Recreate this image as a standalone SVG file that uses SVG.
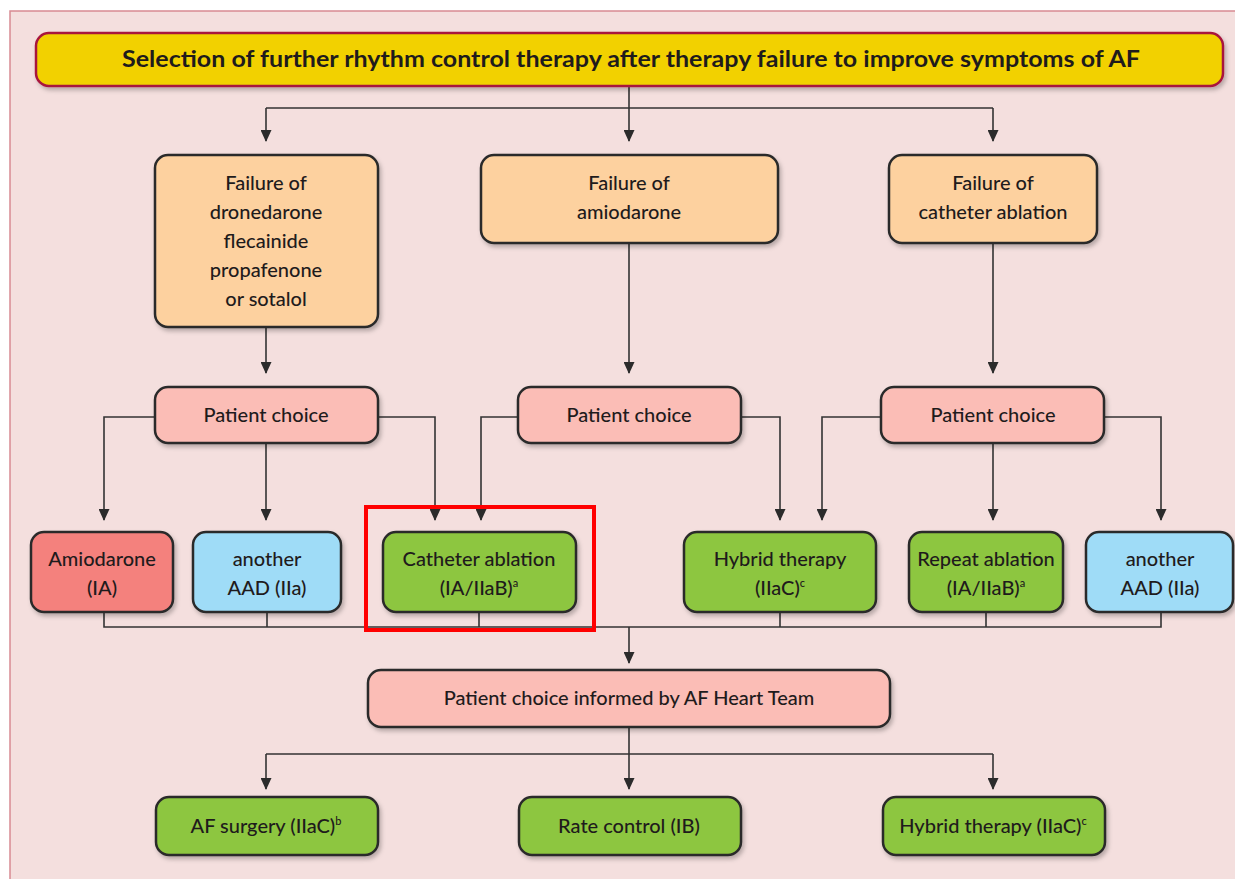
<svg xmlns="http://www.w3.org/2000/svg" width="1235" height="879" viewBox="0 0 1235 879">
<defs>
<filter id="sh" x="-10%" y="-10%" width="125%" height="130%">
<feDropShadow dx="2" dy="3" stdDeviation="2" flood-color="#000" flood-opacity="0.25"/>
</filter>
<marker id="ah" markerUnits="userSpaceOnUse" markerWidth="12" markerHeight="11" refX="11" refY="5.5" orient="auto" viewBox="0 0 12 11">
<path d="M0,0 L12,5.5 L0,11 Z" fill="#2b2b2b"/>
</marker>
<style>
.box{stroke:#2a2a2a;stroke-width:2.5;filter:url(#sh)}
.peach{fill:#fdd19f}
.pink{fill:#fbbdb6}
.red{fill:#f4817d}
.blue{fill:#9fdcf7}
.green{fill:#8dc63f}
.t{font-family:Lato,"Liberation Sans",sans-serif;font-size:20px;font-weight:500;fill:#1f1b1c;text-anchor:middle}
.sup{font-size:11px}
.c{fill:none;stroke:#333;stroke-width:1.6}
.c path.a{marker-end:url(#ah)}
</style>
</defs>
<rect x="0" y="0" width="1235" height="879" fill="#fff"/>
<rect x="10" y="11" width="1240" height="880" fill="#f4dfde" stroke="#d88a93" stroke-width="1.5"/>

<g id="connectors" class="c">
<path d="M629,86 V108 M266,108 H993"/>
<path class="a" d="M266,108 V141"/>
<path class="a" d="M629,108 V141"/>
<path class="a" d="M993,108 V141"/>
<path class="a" d="M266,327 V373"/>
<path class="a" d="M629,243 V373"/>
<path class="a" d="M993,243 V373"/>
<path class="a" d="M155,417 H104 V520"/>
<path class="a" d="M266,443 V520"/>
<path class="a" d="M378,417 H435 V520"/>
<path class="a" d="M518,417 H481 V520"/>
<path class="a" d="M741,417 H780 V520"/>
<path class="a" d="M881,417 H822 V520"/>
<path class="a" d="M993,443 V520"/>
<path class="a" d="M1104,417 H1161 V520"/>
<path d="M104,612 V627 H1161 V612 M267,612 V627 M479,612 V627 M780,612 V627 M986,612 V627"/>
<path class="a" d="M629,627 V663"/>
<path d="M629,727 V754 M266,754 H993"/>
<path class="a" d="M266,754 V789"/>
<path class="a" d="M629,754 V789"/>
<path class="a" d="M993,754 V789"/>
</g>

<g id="title">
<rect x="36" y="33" width="1187" height="53" rx="13" fill="#f2d100" stroke="#a8193d" stroke-width="2.5" filter="url(#sh)"/>
<text x="631" y="67" class="t" style="font-weight:bold;font-size:23px" textLength="1018" lengthAdjust="spacingAndGlyphs">Selection of further rhythm control therapy after therapy failure to improve symptoms of AF</text>
</g>

<g id="fail-dron">
<rect class="box peach" x="155" y="155" width="223" height="172" rx="13"/>
<text class="t" x="266" y="190">Failure of</text>
<text class="t" x="266" y="219">dronedarone</text>
<text class="t" x="266" y="248">flecainide</text>
<text class="t" x="266" y="277">propafenone</text>
<text class="t" x="266" y="306">or sotalol</text>
</g>
<g id="fail-amio">
<rect class="box peach" x="481" y="155" width="297" height="88" rx="13"/>
<text class="t" x="629" y="190">Failure of</text>
<text class="t" x="629" y="219">amiodarone</text>
</g>
<g id="fail-cath">
<rect class="box peach" x="889" y="155" width="208" height="88" rx="13"/>
<text class="t" x="993" y="190">Failure of</text>
<text class="t" x="993" y="219">catheter ablation</text>
</g>

<g id="pc-left">
<rect class="box pink" x="155" y="387" width="223" height="56" rx="13"/>
<text class="t" x="266" y="422">Patient choice</text>
</g>
<g id="pc-mid">
<rect class="box pink" x="518" y="387" width="223" height="56" rx="13"/>
<text class="t" x="629" y="422">Patient choice</text>
</g>
<g id="pc-right">
<rect class="box pink" x="881" y="387" width="223" height="56" rx="13"/>
<text class="t" x="993" y="422">Patient choice</text>
</g>

<g id="amiodarone">
<rect class="box red" x="31" y="532" width="142" height="80" rx="13"/>
<text class="t" x="102" y="566">Amiodarone</text>
<text class="t" x="102" y="595">(IA)</text>
</g>
<g id="aad-left">
<rect class="box blue" x="193" y="532" width="148" height="80" rx="13"/>
<text class="t" x="267" y="566">another</text>
<text class="t" x="267" y="595">AAD (IIa)</text>
</g>
<g id="cath-abl">
<rect class="box green" x="383" y="532" width="193" height="80" rx="13"/>
<text class="t" x="479" y="566">Catheter ablation</text>
<text class="t" x="479" y="595">(IA/IIaB)<tspan class="sup" dy="-8">a</tspan></text>
</g>
<g id="hybrid1">
<rect class="box green" x="684" y="532" width="192" height="80" rx="13"/>
<text class="t" x="780" y="566">Hybrid therapy</text>
<text class="t" x="780" y="595">(IIaC)<tspan class="sup" dy="-8">c</tspan></text>
</g>
<g id="repeat-abl">
<rect class="box green" x="909" y="532" width="154" height="80" rx="13"/>
<text class="t" x="986" y="566">Repeat ablation</text>
<text class="t" x="986" y="595">(IA/IIaB)<tspan class="sup" dy="-8">a</tspan></text>
</g>
<g id="aad-right">
<rect class="box blue" x="1086" y="532" width="147" height="80" rx="13"/>
<text class="t" x="1160" y="566">another</text>
<text class="t" x="1160" y="595">AAD (IIa)</text>
</g>

<g id="highlight">
<rect x="366" y="507" width="228" height="123" fill="none" stroke="#ff0000" stroke-width="4"/>
</g>

<g id="heart-team">
<rect class="box pink" x="368" y="670" width="522" height="57" rx="13"/>
<text class="t" x="629" y="705">Patient choice informed by AF Heart Team</text>
</g>

<g id="af-surgery">
<rect class="box green" x="156" y="797" width="222" height="58" rx="13"/>
<text class="t" x="266" y="833">AF surgery (IIaC)<tspan class="sup" dy="-8">b</tspan></text>
</g>
<g id="rate-control">
<rect class="box green" x="519" y="797" width="222" height="58" rx="13"/>
<text class="t" x="629" y="833">Rate control (IB)</text>
</g>
<g id="hybrid2">
<rect class="box green" x="883" y="797" width="222" height="58" rx="13"/>
<text class="t" x="993" y="833">Hybrid therapy (IIaC)<tspan class="sup" dy="-8">c</tspan></text>
</g>
</svg>
